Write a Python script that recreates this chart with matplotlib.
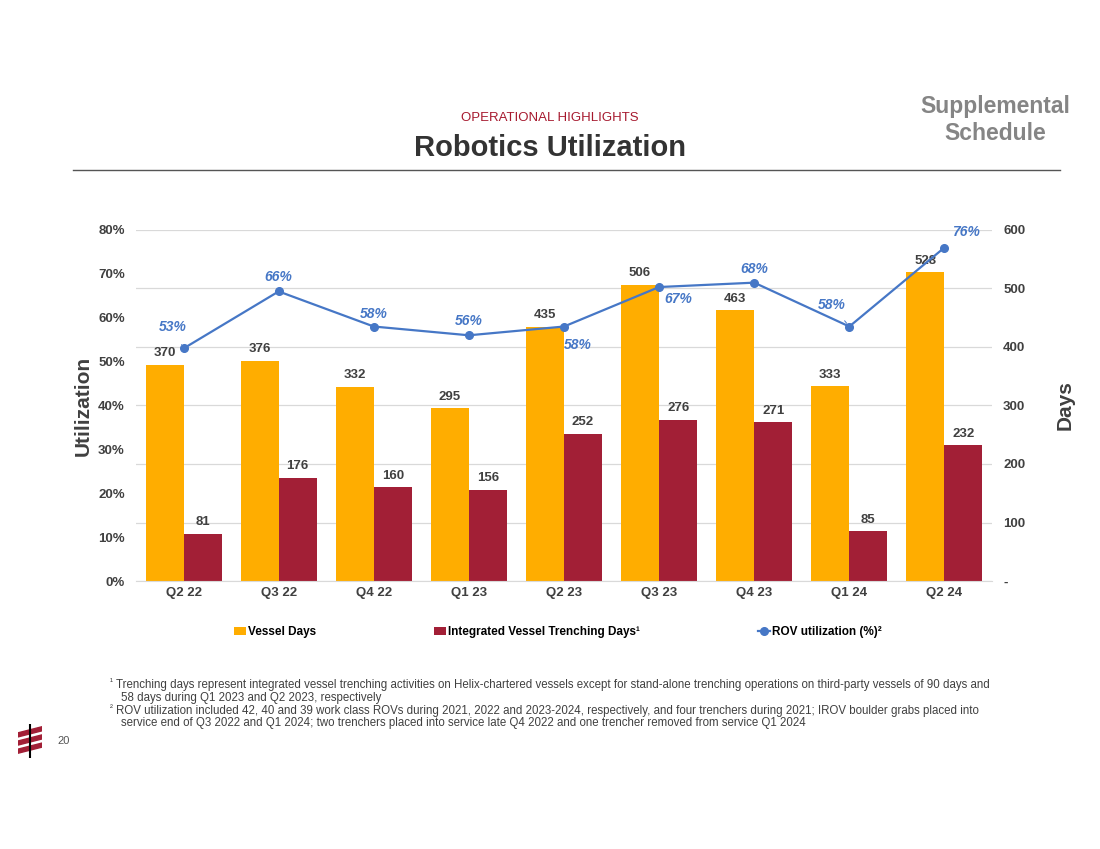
import matplotlib.pyplot as plt
from matplotlib import font_manager
import numpy as np

plt.rcParams['font.family'] = ['Liberation Sans', 'DejaVu Sans']

# data
quarters = ['Q2 22', 'Q3 22', 'Q4 22', 'Q1 23', 'Q2 23', 'Q3 23', 'Q4 23', 'Q1 24', 'Q2 24']
vessel_days = [370, 376, 332, 295, 435, 506, 463, 333, 528]
trenching_days = [81, 176, 160, 156, 252, 276, 271, 85, 232]
rov_util = [0.53, 0.66, 0.58, 0.56, 0.58, 0.67, 0.68, 0.58, 0.76]

orange = '#FFAD00'
maroon = '#A21F36'
blue = '#4677C6'
txt = '#404040'

# narrow font for the footnotes if we have it
try:
    font_manager.findfont('Liberation Sans Narrow', fallback_to_default=False)
    narrow = 'Liberation Sans Narrow'
    foot_size = 9.75
except Exception:
    narrow = 'Liberation Sans'
    foot_size = 8.3

fig = plt.figure(figsize=(11, 8.49), dpi=100)

# header
fig.text(0.5, 1 - 118 / 849, 'OPERATIONAL HIGHLIGHTS', color='#A6192E', fontsize=9.5,
         ha='center', va='center')
fig.text(0.5, 1 - 148 / 849, 'Robotics Utilization', color='#333333', fontsize=21,
         fontweight='bold', ha='center', va='center')
fig.text(995 / 1100, 1 - 120 / 849, 'Supplemental\nSchedule', color='#858585', fontsize=16.5,
         fontweight='bold', ha='center', va='center', linespacing=1.2)
fig.add_artist(plt.Line2D([73 / 1100, 1060 / 1100], [1 - 170 / 849] * 2, color='#555555', lw=1))

# main axes
ax = fig.add_axes([136 / 1100, 1 - 581 / 849, 856 / 1100, 351 / 849])
ax2 = ax.twinx()
ax.set_zorder(ax2.get_zorder() + 1)
ax.patch.set_visible(False)

x = np.arange(len(quarters))
w = 0.4
b1 = ax2.bar(x - w / 2, vessel_days, w, color=orange, label='Vessel Days')
b2 = ax2.bar(x + w / 2, trenching_days, w, color=maroon, label='Integrated Vessel Trenching Days¹')
for xi, v in zip(x, vessel_days):
    ax2.annotate(str(v), (xi - w / 2, v), xytext=(0, 4), textcoords='offset points',
                 ha='center', va='bottom', fontsize=9.5, fontweight='bold', color=txt)
for xi, v in zip(x, trenching_days):
    ax2.annotate(str(v), (xi + w / 2, v), xytext=(0, 4), textcoords='offset points',
                 ha='center', va='bottom', fontsize=9.5, fontweight='bold', color=txt)

ln, = ax.plot(x, rov_util, color=blue, lw=1.6, marker='o', ms=5.5, label='ROV utilization (%)²')

# label offsets in pixels, and whether a leader line is drawn
offsets = [(-11, 21, True), (0, 14, False), (0, 13, False), (0, 14, False), (14, -18, True),
           (19, -12, False), (0, 14, False), (-18, 22, True), (22, 16, True)]
for xi, v, (dx, dy, lead) in zip(x, rov_util, offsets):
    ax.annotate(f'{round(v * 100)}%', (xi, v), xytext=(dx, dy), textcoords='offset pixels',
                ha='center', va='center', fontsize=10, fontweight='bold', style='italic',
                color=blue,
                arrowprops=dict(arrowstyle='-', color=blue, lw=0.7, shrinkA=6, shrinkB=3) if lead else None)

ax.set_xlim(-0.5, len(quarters) - 0.5)
ax.set_ylim(0, 0.8)
ax.set_yticks(np.arange(0, 0.81, 0.1))
ax.set_yticklabels([f'{int(round(t * 100))}%' for t in np.arange(0, 0.81, 0.1)])
ax2.set_ylim(0, 600)
ax2.set_yticks(range(0, 601, 100))
ax2.set_yticklabels(['-'] + [str(t) for t in range(100, 601, 100)])
ax.set_xticks(x)
ax.set_xticklabels(quarters)

ax2.grid(axis='y', color='#D9D9D9', lw=0.9)
ax2.set_axisbelow(True)
for a in (ax, ax2):
    for s in a.spines.values():
        s.set_visible(False)
    a.tick_params(length=0, labelsize=9.5, labelcolor=txt)
    for lab in a.get_xticklabels() + a.get_yticklabels():
        lab.set_fontweight('bold')
ax.spines['bottom'].set_visible(True)
ax.spines['bottom'].set_color('#D9D9D9')
ax.tick_params(axis='y', pad=8)
ax.tick_params(axis='x', pad=4)
ax2.tick_params(axis='y', pad=8)

ax.set_ylabel('Utilization', fontsize=15, fontweight='bold', color=txt, labelpad=4)
ax2.set_ylabel('Days', fontsize=15, fontweight='bold', color=txt, labelpad=22)

fig.legend(handles=[b1, b2, ln], loc='center', bbox_to_anchor=(558 / 1100, 1 - 632 / 849),
           ncol=3, frameon=False, handlelength=1.0, handleheight=0.7,
           handletextpad=0.2, columnspacing=10.0, prop={'weight': 'bold', 'size': 8.5})

# footnotes
foot = [
    ('¹', 'Trenching days represent integrated vessel trenching activities on Helix-chartered vessels except for stand-alone trenching operations on third-party vessels of 90 days and', 685, 116),
    ('', '58 days during Q1 2023 and Q2 2023, respectively', 698, 121),
    ('²', 'ROV utilization included 42, 40 and 39 work class ROVs during 2021, 2022 and 2023-2024, respectively, and four trenchers during 2021; IROV boulder grabs placed into', 711, 116),
    ('', 'service end of Q3 2022 and Q1 2024; two trenchers placed into service late Q4 2022 and one trencher removed from service Q1 2024', 723, 121),
]
for sup, line, y, x0 in foot:
    if sup:
        fig.text(110 / 1100, 1 - (y - 3) / 849, sup, fontsize=6.5, color=txt, va='center',
                 family=narrow)
    fig.text(x0 / 1100, 1 - y / 849, line, fontsize=foot_size, color=txt, va='center',
             family=narrow)

fig.text(64 / 1100, 1 - 741 / 849, '20', fontsize=8, color='#555555', va='center', ha='center')

# small logo
lax = fig.add_axes([18 / 1100, 1 - 758 / 849, 24 / 1100, 34 / 849])
lax.set_xlim(0, 1)
lax.set_ylim(0, 1)
lax.axis('off')
lax.plot([0.5, 0.5], [0.02, 0.98], color='black', lw=1.5)
for y0 in (0.72, 0.48, 0.24):
    lax.add_patch(plt.Polygon([[0.0, y0 - 0.1], [1.0, y0 + 0.08], [1.0, y0 + 0.2], [0.0, y0 + 0.02]],
                              color=maroon))

fig.savefig('out.png', dpi=100)
